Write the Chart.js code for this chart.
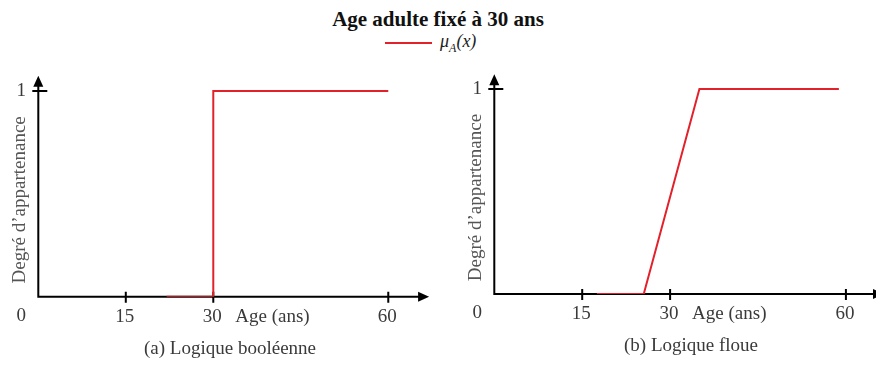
<!DOCTYPE html>
<html>
<head>
<meta charset="utf-8">
<script src="https://cdn.jsdelivr.net/npm/chart.js@4"></script>
<style>
  html, body { margin: 0; padding: 0; background: #fff; }
  body { width: 876px; height: 368px; position: relative; overflow: hidden; }
  canvas { position: absolute; top: 0; }
  #title {
    position: absolute; left: 0; width: 876px; top: 7px; text-align: center;
    font: bold 21px "Liberation Serif", serif; color: #111;
  }
  #legend {
    position: absolute; left: 385px; top: 31px; height: 24px;
    font: italic 18px "Liberation Serif", serif; color: #222;
    display: flex; align-items: center;
  }
  #legend .swatch { width: 47px; height: 0; border-top: 2px solid #e3212b; margin-right: 8px; }
  #legend sub { font-size: 12px; }
</style>
</head>
<body>
<div id="title">Age adulte fixé à 30 ans</div>
<div id="legend"><span class="swatch"></span><span>μ<sub>A</sub>(x)</span></div>
<canvas id="boolChart" width="438" height="368" style="left:0"></canvas>
<canvas id="fuzzyChart" width="450" height="368" style="left:438px"></canvas>
<script>
// Fonction d'appartenance booléenne (seuil net à 30 ans)
const boolAges = [22, 30, 30, 60];
const boolDegree = [0, 0, 1, 1];

// Fonction d'appartenance floue (transition entre ~25 et ~35 ans)
const fuzzyAges = [17.5, 25.5, 35, 58.8];
const fuzzyDegree = [0, 0, 1, 1];

const xTicks = [15, 30, 60];
const yTicks = [1];
const xTitle = 'Age (ans)';
const yTitle = 'Degré d\u2019appartenance';

const RED = '#e3212b';
const INK = '#3a3a3a';
const FONT = '19px "Liberation Serif", serif';

function toPoints(xs, ys) {
  return xs.map((x, i) => ({ x: x, y: ys[i] }));
}

// Axes fléchés, graduations croisées et libellés
const arrowAxes = {
  id: 'arrowAxes',
  beforeDatasetsDraw(chart, args, opts) {
    const c = chart.ctx;
    const xs = chart.scales.x, ys = chart.scales.y;
    const x0 = xs.getPixelForValue(0), y0 = ys.getPixelForValue(0);
    const xEnd = chart.chartArea.right, yEnd = chart.chartArea.top;
    c.save();
    c.strokeStyle = '#000';
    c.fillStyle = '#000';
    c.lineWidth = 2;
    c.beginPath();
    c.moveTo(x0 - 1, y0); c.lineTo(xEnd - 8, y0);
    c.moveTo(x0, y0 + 1); c.lineTo(x0, yEnd + 8);
    // graduations
    xTicks.forEach(v => {
      const px = xs.getPixelForValue(v);
      c.moveTo(px, y0 - 5); c.lineTo(px, y0 + 6);
    });
    yTicks.forEach(v => {
      const py = ys.getPixelForValue(v);
      c.moveTo(x0 - 6, py); c.lineTo(x0 + 9, py);
    });
    c.stroke();
    // pointes de flèche
    c.beginPath();
    c.moveTo(xEnd, y0); c.lineTo(xEnd - 11, y0 - 5); c.lineTo(xEnd - 11, y0 + 5); c.closePath();
    c.moveTo(x0, yEnd); c.lineTo(x0 - 5, yEnd + 11); c.lineTo(x0 + 5, yEnd + 11); c.closePath();
    c.fill();

    // libellés
    c.font = FONT;
    c.fillStyle = INK;
    c.textAlign = 'center';
    c.textBaseline = 'middle';
    xTicks.forEach(v => c.fillText(String(v), xs.getPixelForValue(v) - 1, y0 + 20));
    c.fillText('0', x0 - 17, y0 + 19);
    yTicks.forEach(v => c.fillText(String(v), x0 - 17, ys.getPixelForValue(v)));
    c.textAlign = 'left';
    c.fillText(xTitle, xs.getPixelForValue(30) + 22, y0 + 20);
    c.textAlign = 'center';
    c.fillText(opts.caption, opts.captionX, y0 + 52);
    c.save();
    c.fillStyle = '#555';
    c.translate(x0 - 18, (ys.getPixelForValue(yTicks[0]) + y0) / 2 + 6);
    c.rotate(-Math.PI / 2);
    c.fillText(yTitle, 0, 0);
    c.restore();
    c.restore();
  }
};

function makeChart(id, xs, ys, xMax, yMax, padding, caption, captionX) {
  return new Chart(document.getElementById(id), {
    type: 'line',
    data: {
      datasets: [{
        label: 'μA(x)',
        data: toPoints(xs, ys),
        borderColor: RED,
        borderWidth: 2,
        pointRadius: 0,
        tension: 0
      }]
    },
    options: {
      responsive: false,
      animation: false,
      layout: { padding: padding },
      plugins: {
        legend: { display: false },
        tooltip: { enabled: false },
        arrowAxes: { caption: caption, captionX: captionX }
      },
      scales: {
        x: { type: 'linear', min: 0, max: xMax, display: false },
        y: { type: 'linear', min: 0, max: yMax, display: false }
      }
    },
    plugins: [arrowAxes]
  });
}

makeChart('boolChart', boolAges, boolDegree, 67, 1.074,
  { left: 38.3, right: 8.9, top: 75.7, bottom: 71.3 },
  '(a) Logique booléenne', 230);

makeChart('fuzzyChart', fuzzyAges, fuzzyDegree, 66.5, 1.072,
  { left: 56.3, right: 4, top: 74.3, bottom: 74 },
  '(b) Logique floue', 253);
</script>
</body>
</html>
